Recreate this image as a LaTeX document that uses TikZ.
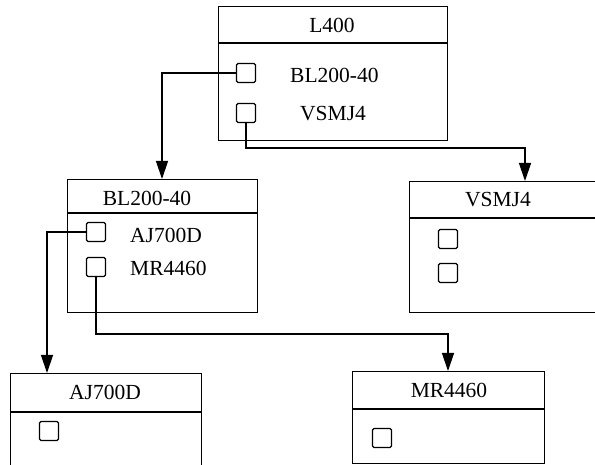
\documentclass[tikz,border=0pt]{standalone}
\usepackage{fontspec}
\setmainfont{Liberation Serif}
\usetikzlibrary{arrows.meta}
\begin{document}
\begin{tikzpicture}[x=1pt,y=-1pt,
  frame/.style={draw,line width=1.3pt,inner sep=0pt,anchor=north west},
  chk/.style={draw,line width=1.2pt,rounded corners=1.5pt,minimum width=19pt,minimum height=19pt,inner sep=0pt},
  title/.style={font=\fontsize{21.5}{23}\selectfont,inner sep=0pt},
  item/.style={font=\fontsize{21.5}{23}\selectfont,inner sep=0pt,anchor=west},
  link/.style={line width=1.3pt,-{Triangle[length=18pt,width=12pt]}}]
\useasboundingbox (0,0) rectangle (595,465);
\clip (0,0) rectangle (595,465);
\fill[white] (0,0) rectangle (595,465);
% L400
\node[frame,minimum width=229pt,minimum height=134pt] (L400) at (218,6) {};
\draw[line width=1.3pt] (218,43) -- (447,43);
\node[title] (tL400) at (332,25) {L400};
\node[chk] (c1) at (246,73) {};
\node[chk] (c2) at (246,113) {};
\node[item] (tc1) at (290,75) {BL200-40};
\node[item] (tc2) at (300,114) {VSMJ4};
% BL200-40
\node[frame,minimum width=190pt,minimum height=133pt] (BL) at (67,179) {};
\draw[line width=1.3pt] (67,213) -- (257,213);
\node[title] (tBL) at (147,198) {BL200-40};
\node[chk] (c3) at (96,232) {};
\node[chk] (c4) at (96,267) {};
\node[item] (tc3) at (130,235) {AJ700D};
\node[item] (tc4) at (130,268) {MR4460};
% VSMJ4
\node[frame,minimum width=200pt,minimum height=131pt] (VS) at (409,181) {};
\draw[line width=1.3pt] (409,218) -- (609,218);
\node[title] (tVS) at (498,200) {VSMJ4};
\node[chk] (c5) at (448,239) {};
\node[chk] (c6) at (448,273) {};
% AJ700D
\node[frame,minimum width=191pt,minimum height=110pt] (AJ) at (10,373) {};
\draw[line width=1.3pt] (10,412) -- (201,412);
\node[title] (tAJ) at (105,392) {AJ700D};
\node[chk] (c7) at (49,431) {};
% MR4460
\node[frame,minimum width=192pt,minimum height=92pt] (MR) at (352,371) {};
\draw[line width=1.3pt] (352,409) -- (544,409);
\node[title] (tMR) at (449,390) {MR4460};
\node[chk] (c8) at (382,438) {};
% connectors
\coordinate (BLtop) at (162,179);
\coordinate (VStop) at (525,181);
\coordinate (AJtop) at (47,373);
\coordinate (MRtop) at (448,371);
\draw[link] (c1.west) -- (162,73) -- (BLtop);
\draw[link] (c2.south) -- (246,148) -- (525,148) -- (VStop);
\draw[link] (c3.west) -- (47,232) -- (AJtop);
\draw[link] (c4.south) -- (96,334) -- (448,334) -- (MRtop);
\end{tikzpicture}
\end{document}
